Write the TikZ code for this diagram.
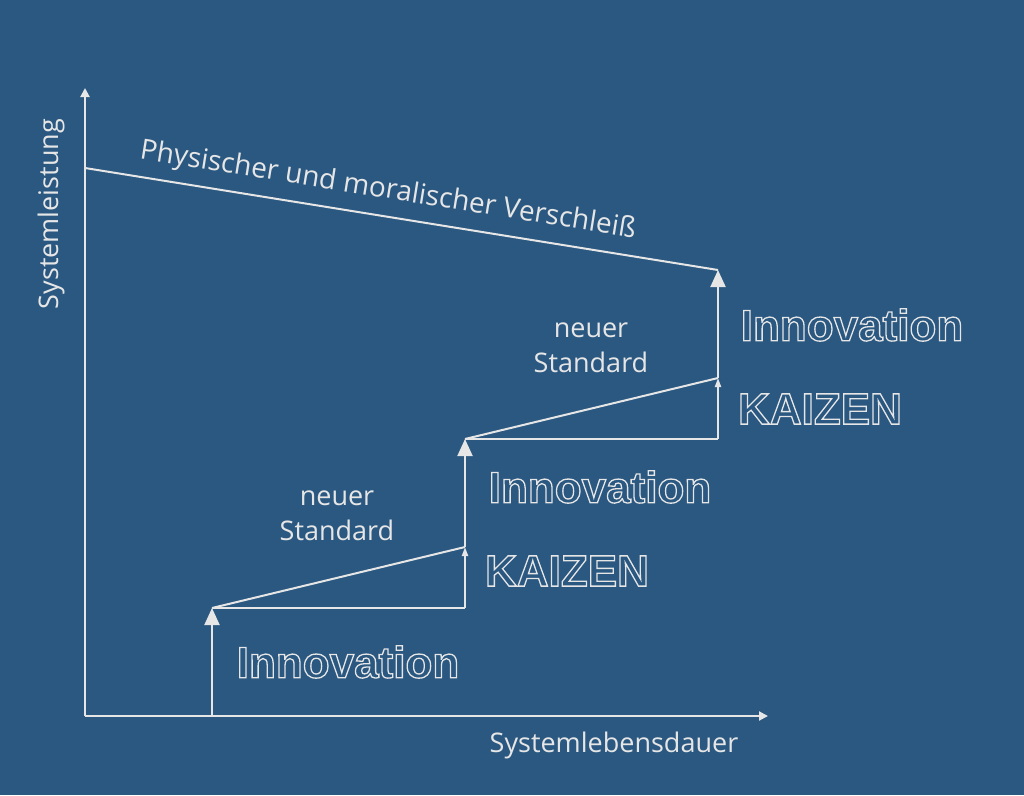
\documentclass[tikz,border=0pt]{standalone}
\usepackage{fontspec}
\setmainfont{Open Sans}
\newfontfamily\outfont{Liberation Sans}
\usetikzlibrary{arrows.meta}
\definecolor{bg}{HTML}{2A5881}
\definecolor{fg}{HTML}{E6E6E6}
\newcommand{\outl}[1]{\special{pdf:literal 1 Tr 1.3 w}#1\special{pdf:literal 0 Tr}}
\tikzset{
  ln/.style={draw=fg, line width=2},
  axis/.style={ln, -{Triangle[width=9,length=9]}},
  inno/.style={ln, -{Triangle[width=15,length=17]}},
  kai/.style={ln, -{Triangle[width=6,length=9]}},
  lbl/.style={text=fg, font=\fontsize{27}{35}\selectfont, align=center, inner sep=0},
  big/.style={text=fg, font=\outfont\bfseries\fontsize{44}{50}\selectfont, inner sep=0},
}
\begin{document}
\begin{tikzpicture}[x=1pt,y=-1pt]
\fill[bg] (0,0) rectangle (1024,795);
\useasboundingbox (0,0) rectangle (1024,795);
\coordinate (O) at (85,716);
\coordinate (Ytip) at (85,88);
\coordinate (Xtip) at (768,716);
\coordinate (T0) at (85,168);
\coordinate (A0) at (212,716);
\coordinate (A1) at (212,608);
\coordinate (B1) at (465,608);
\coordinate (B1t) at (465,547);
\coordinate (A2) at (465,439);
\coordinate (B2) at (718,439);
\coordinate (B2t) at (718,378);
\coordinate (A3) at (718,270);
% axes
\draw[axis] (O) -- (Ytip);
\draw[axis] (O) -- (Xtip);
% wear line
\draw[ln] (T0) -- (A3);
% innovations
\draw[inno] (A0) -- (A1);
\draw[inno] (B1t) -- (A2);
\draw[inno] (B2t) -- (A3);
% kaizen steps
\draw[ln] (A1) -- (B1t);
\draw[ln] (A1) -- (B1);
\draw[kai] (B1) -- (B1t);
\draw[ln] (A2) -- (B2t);
\draw[ln] (A2) -- (B2);
\draw[kai] (B2) -- (B2t);
% labels
\node[lbl, rotate=90] (yl) at (51,214) {Systemleistung};
\node[lbl] (xl) at (614,745) {Systemlebensdauer};
\node[lbl, font=\fontsize{28}{34}\selectfont, rotate=-9.1] (wear) at (388,191) {Physischer und moralischer Verschleiß};
\node[lbl] (ns1) at (337,516) {neuer\\Standard};
\node[lbl] (ns2) at (591,348) {neuer\\Standard};
\node[big] (i1) at (348,662) {\outl{Innovation}};
\node[big] (k1) at (567,571) {\outl{KAIZEN}};
\node[big] (i2) at (600,487) {\outl{Innovation}};
\node[big] (k2) at (820,409) {\outl{KAIZEN}};
\node[big] (i3) at (852,325) {\outl{Innovation}};
\end{tikzpicture}
\end{document}
